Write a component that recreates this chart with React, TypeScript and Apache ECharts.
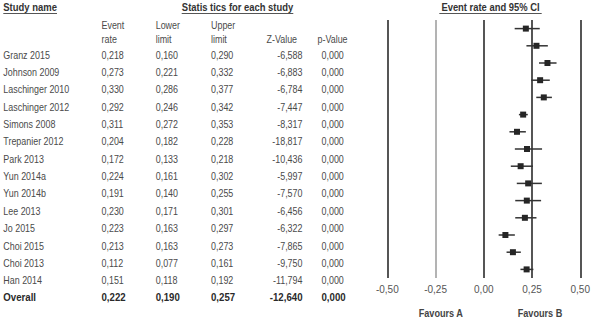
import React, { useEffect, useRef } from "react";
import * as echarts from "echarts";

const STUDIES = [
  "Granz 2015",
  "Johnson 2009",
  "Laschinger 2010",
  "Laschinger 2012",
  "Simons 2008",
  "Trepanier 2012",
  "Park 2013",
  "Yun 2014a",
  "Yun 2014b",
  "Lee 2013",
  "Jo 2015",
  "Choi 2015",
  "Choi 2013",
  "Han 2014",
  "Overall",
];
const EVENT_RATE = [0.218, 0.273, 0.33, 0.292, 0.311, 0.204, 0.172, 0.224, 0.191, 0.23, 0.223, 0.213, 0.112, 0.151, 0.222];
const LOWER = [0.16, 0.221, 0.286, 0.246, 0.272, 0.182, 0.133, 0.161, 0.14, 0.171, 0.163, 0.163, 0.077, 0.118, 0.19];
const UPPER = [0.29, 0.332, 0.377, 0.342, 0.353, 0.228, 0.218, 0.302, 0.255, 0.301, 0.297, 0.273, 0.161, 0.192, 0.257];
const Z_VALUE = [-6.588, -6.883, -6.784, -7.447, -8.317, -18.817, -10.436, -5.997, -7.57, -6.456, -6.322, -7.865, -9.75, -11.794, -12.64];
const P_VALUE = [0, 0, 0, 0, 0, 0, 0, 0, 0, 0, 0, 0, 0, 0, 0];

const TITLE_STUDY = "Study name";
const TITLE_STATS = "Statis tics for each study";
const TITLE_PLOT = "Event rate and 95% CI";
const COLUMN_HEADERS = [
  ["Event", "rate"],
  ["Lower", "limit"],
  ["Upper", "limit"],
  ["", "Z-Value"],
  ["", "p-Value"],
];
const FAVOURS = ["Favours A", "Favours B"];
const X_MIN = -0.5;
const X_MAX = 0.5;
const X_STEP = 0.25;

const fmt = (v: number) => v.toFixed(3).replace(".", ",");

const FONT = "'Liberation Sans', Arial, Helvetica, sans-serif";
const BODY_SIZE = 10.5;
const BODY_SCALE = 0.85;
const BODY_COLOR = "#4a4a4a";
const DARK = "#2a2a2a";

// layout
const ROW_Y0 = 55;
const ROW_STEP = 17.34;
const COL_X = [101.5, 155.7, 211, 302.5, 321.5];
const COL_ALIGN = ["left", "left", "left", "right", "left"];
const HEAD_X = [101.5, 155.7, 211, 266.5, 317.5];

function txt(x: number, y: number, text: string, opts: any = {}) {
  return {
    type: "text",
    x,
    y,
    scaleX: opts.scale ?? BODY_SCALE,
    silent: true,
    style: {
      x: 0,
      y: 0,
      text,
      fill: opts.fill ?? BODY_COLOR,
      fontSize: opts.size ?? BODY_SIZE,
      fontFamily: FONT,
      fontWeight: opts.weight ?? "normal",
      align: opts.align ?? "left",
      verticalAlign: "middle",
    },
  };
}

export default function App() {
  const ref = useRef<HTMLDivElement>(null);

  useEffect(() => {
    if (!ref.current) return;
    const chart = echarts.init(ref.current, undefined, { renderer: "svg" });

    const graphics: any[] = [];
    // titles
    graphics.push(txt(3.3, 7.5, TITLE_STUDY, { weight: "bold", fill: "#333", size: 10.7, scale: 0.885 }));
    graphics.push(txt(237.5, 7.5, TITLE_STATS, { weight: "bold", fill: "#333", size: 10.7, scale: 0.88, align: "center" }));
    graphics.push(txt(490.5, 7.5, TITLE_PLOT, { weight: "bold", fill: "#333", size: 10.7, scale: 0.88, align: "center" }));
    const underline = (x1: number, x2: number) => ({
      type: "line",
      silent: true,
      shape: { x1, y1: 13.5, x2, y2: 13.5 },
      style: { stroke: "#555", lineWidth: 1 },
    });
    graphics.push(underline(3.3, 57));
    graphics.push(underline(181.7, 293.3));
    graphics.push(underline(439.3, 541.7));

    // column headers
    COLUMN_HEADERS.forEach((h, c) => {
      if (h[0]) graphics.push(txt(HEAD_X[c], 24.8, h[0]));
      if (h[1]) graphics.push(txt(HEAD_X[c], 39.5, h[1]));
    });

    // rows
    STUDIES.forEach((name, i) => {
      const y = ROW_Y0 + i * ROW_STEP;
      const isOverall = i === STUDIES.length - 1;
      const o = isOverall ? { weight: "bold", fill: DARK, scale: 0.92 } : {};
      graphics.push(txt(3.3, y, name, o));
      const vals = [fmt(EVENT_RATE[i]), fmt(LOWER[i]), fmt(UPPER[i]), fmt(Z_VALUE[i]), fmt(P_VALUE[i])];
      vals.forEach((v, c) => {
        graphics.push(txt(COL_X[c], y, v, { ...o, align: COL_ALIGN[c] }));
      });
    });

    // favours labels
    graphics.push(txt(440.8, 313.3, FAVOURS[0], { weight: "bold", fill: "#444", size: 10.5, scale: 0.87, align: "center" }));
    graphics.push(txt(540, 313.3, FAVOURS[1], { weight: "bold", fill: "#444", size: 10.5, scale: 0.87, align: "center" }));

    chart.setOption({
      animation: false,
      grid: { left: 387.3, width: 198.3, top: 20, height: 258, containLabel: false },
      xAxis: {
        type: "value",
        min: X_MIN,
        max: X_MAX,
        interval: X_STEP,
        axisLine: { show: false },
        axisTick: { show: false },
        axisLabel: {
          margin: 6,
          fontSize: 10,
          fontFamily: FONT,
          color: "#555",
          formatter: (v: number) => v.toFixed(2).replace(".", ","),
        },
        splitLine: {
          show: true,
          lineStyle: {
            color: ["#2b2b2b", "#a0a0a0", "#2b2b2b", "#2b2b2b", "#2b2b2b"],
            width: 1.6,
          },
        },
      },
      yAxis: {
        type: "category",
        data: STUDIES,
        inverse: true,
        show: false,
      },
      series: [
        {
          type: "custom",
          data: STUDIES.map((_, i) => [i, EVENT_RATE[i], LOWER[i], UPPER[i]]),
          encode: { x: [1, 2, 3], y: 0 },
          renderItem: (params: any, api: any) => {
            const idx = api.value(0);
            const c = api.coord([api.value(1), idx]);
            const l = api.coord([api.value(2), idx]);
            const h = api.coord([api.value(3), idx]);
            const s = 6;
            return {
              type: "group",
              children: [
                {
                  type: "line",
                  shape: { x1: l[0], y1: c[1], x2: h[0], y2: c[1] },
                  style: { stroke: "#333", lineWidth: 1.5 },
                },
                {
                  type: "rect",
                  shape: { x: c[0] - s / 2, y: c[1] - s / 2, width: s, height: s },
                  style: { fill: "#262626" },
                },
              ],
            };
          },
        },
      ],
      graphic: graphics,
    });

    return () => chart.dispose();
  }, []);

  return (
    <div
      ref={ref}
      style={{ position: "absolute", left: 0, top: 0, width: 593, height: 324, background: "#fff" }}
    />
  );
}
